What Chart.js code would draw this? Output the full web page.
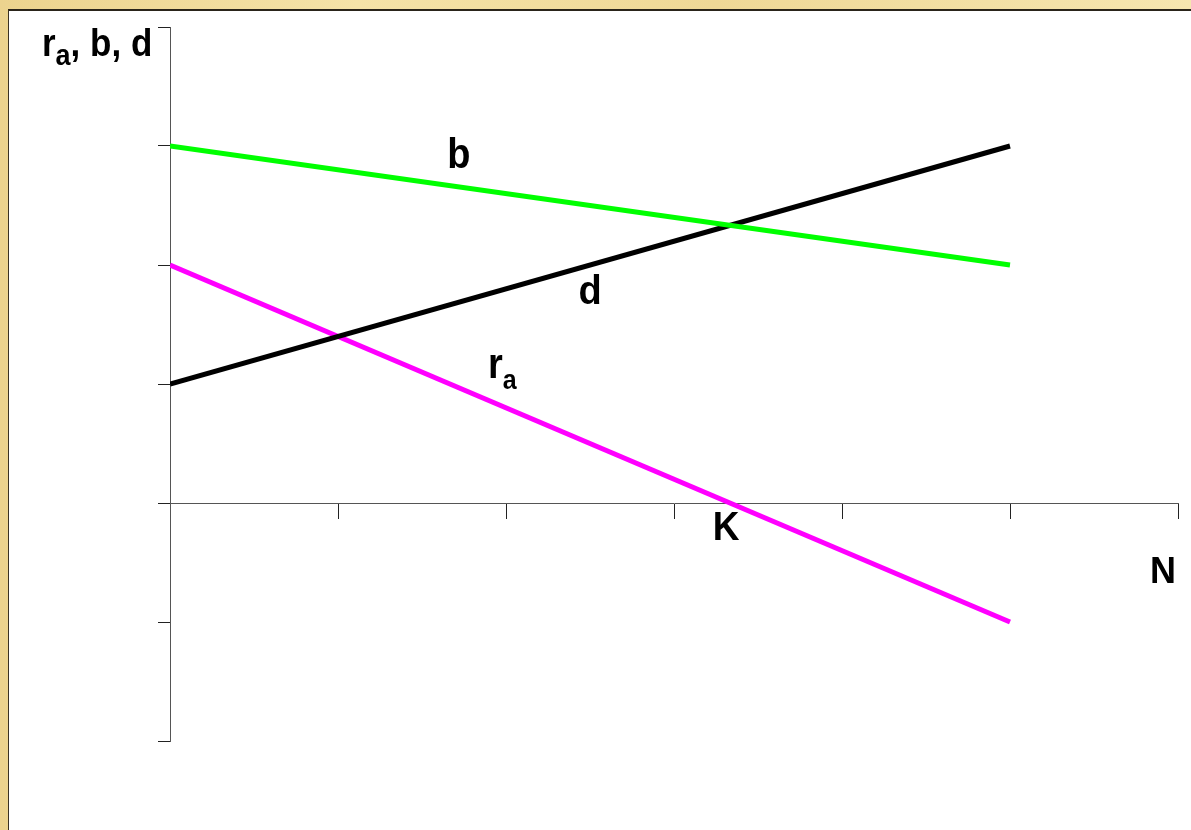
<!DOCTYPE html>
<html>
<head>
<meta charset="utf-8">
<script src="https://cdn.jsdelivr.net/npm/chart.js@4/dist/chart.umd.min.js"></script>
<style>
  html, body { margin: 0; padding: 0; width: 1191px; height: 830px; overflow: hidden; }
  body {
    background: linear-gradient(90deg, #ecd38e 0%, #f5e3a8 30%, #efd896 60%, #f6e6b0 100%);
    position: relative;
  }
  #sheet {
    position: absolute; left: 8px; top: 9px; right: 0; bottom: 0;
    background: #fff;
    border-left: 1px solid #3a3224;
    border-top: 2px solid #2a241a;
  }
  #chart { position: absolute; left: 0; top: 0; }
</style>
</head>
<body>
<div id="sheet"></div>
<canvas id="chart" width="1191" height="830"></canvas>
<script>
// --- data (N on x, rates on y) ---
const nValues = [0, 5];
const bValues = [3, 2];     // birth rate b
const dValues = [1, 3];     // death rate d
const raValues = [2, -1];   // r_a = b - d

const xTicks = [0, 1, 2, 3, 4, 5, 6];
const yTicks = [-2, -1, 0, 1, 2, 3, 4];

// text labels placed in data units (size in px, sy = vertical stretch)
const labels = [
  { text: "b", x: 1.72, y: 2.815, align: "center", size: 38, sy: 1.1 },
  { text: "d", x: 2.5, y: 1.67, align: "center", size: 38, sy: 1.05 },
  { text: "r", sub: "a", subSize: 25, subDy: 11, x: 1.893, y: 1.05, align: "left", size: 38, sy: 1.1 },
  { text: "K", x: 3.31, y: -0.31, align: "center", size: 37, sy: 1.1 },
  { text: "N", x: 5.91, y: -0.67, align: "center", size: 36, sy: 1.05 },
  { text: "r", sub: "a", subSize: 27, subDy: 9, rest: ", b, d", x: -0.762, y: 3.756, align: "left", size: 35, sy: 1.12 }
];

function toPoints(ys) {
  return nValues.map((n, i) => ({ x: n, y: ys[i] }));
}

function font(size) {
  return "bold " + size + "px 'Liberation Sans', Arial, sans-serif";
}

const labelPlugin = {
  id: "labels",
  afterDraw(chart) {
    const ctx = chart.ctx;
    const xs = chart.scales.x, ys = chart.scales.y;
    ctx.fillStyle = "#000";
    labels.forEach(l => {
      ctx.save();
      ctx.translate(xs.getPixelForValue(l.x), ys.getPixelForValue(l.y));
      ctx.scale(1, l.sy);
      ctx.textBaseline = "alphabetic";
      ctx.font = font(l.size);
      if (l.align === "center") {
        ctx.textAlign = "center";
        ctx.fillText(l.text, 0, 0);
        ctx.restore();
        return;
      }
      ctx.textAlign = "left";
      let px = 0;
      ctx.fillText(l.text, px, 0);
      px += ctx.measureText(l.text).width;
      if (l.sub) {
        ctx.font = font(l.subSize);
        ctx.fillText(l.sub, px, l.subDy / l.sy);
        px += ctx.measureText(l.sub).width;
      }
      if (l.rest) {
        ctx.font = font(l.size);
        ctx.fillText(l.rest, px, 0);
      }
      ctx.restore();
    });
  }
};

const axisGrid = {
  drawOnChartArea: false,
  drawTicks: true,
  color: "#222",
  lineWidth: 1
};

new Chart(document.getElementById("chart"), {
  type: "scatter",
  data: {
    datasets: [
      { label: "b", data: toPoints(bValues), borderColor: "#00ff00" },
      { label: "d", data: toPoints(dValues), borderColor: "#000000" },
      { label: "ra", data: toPoints(raValues), borderColor: "#ff00ff" }
    ].map(ds => Object.assign(ds, {
      showLine: true, pointRadius: 0, borderWidth: 5, fill: false
    }))
  },
  options: {
    responsive: false,
    animation: false,
    devicePixelRatio: 1,
    layout: { padding: { left: 158, right: 13, top: 27, bottom: 89 } },
    plugins: { legend: { display: false }, tooltip: { enabled: false } },
    scales: {
      x: {
        type: "linear",
        min: xTicks[0],
        max: xTicks[xTicks.length - 1],
        position: { y: 0 },
        afterBuildTicks: s => { s.ticks = xTicks.map(v => ({ value: v })); },
        ticks: { display: false },
        grid: Object.assign({}, axisGrid, { tickLength: 15 }),
        border: { display: true, color: "#555", width: 1 }
      },
      y: {
        type: "linear",
        min: yTicks[0],
        max: yTicks[yTicks.length - 1],
        position: "left",
        afterBuildTicks: s => { s.ticks = yTicks.map(v => ({ value: v })); },
        ticks: { display: false },
        grid: Object.assign({}, axisGrid, { tickLength: 12 }),
        border: { display: true, color: "#555", width: 1 }
      }
    }
  },
  plugins: [labelPlugin]
});
</script>
</body>
</html>
